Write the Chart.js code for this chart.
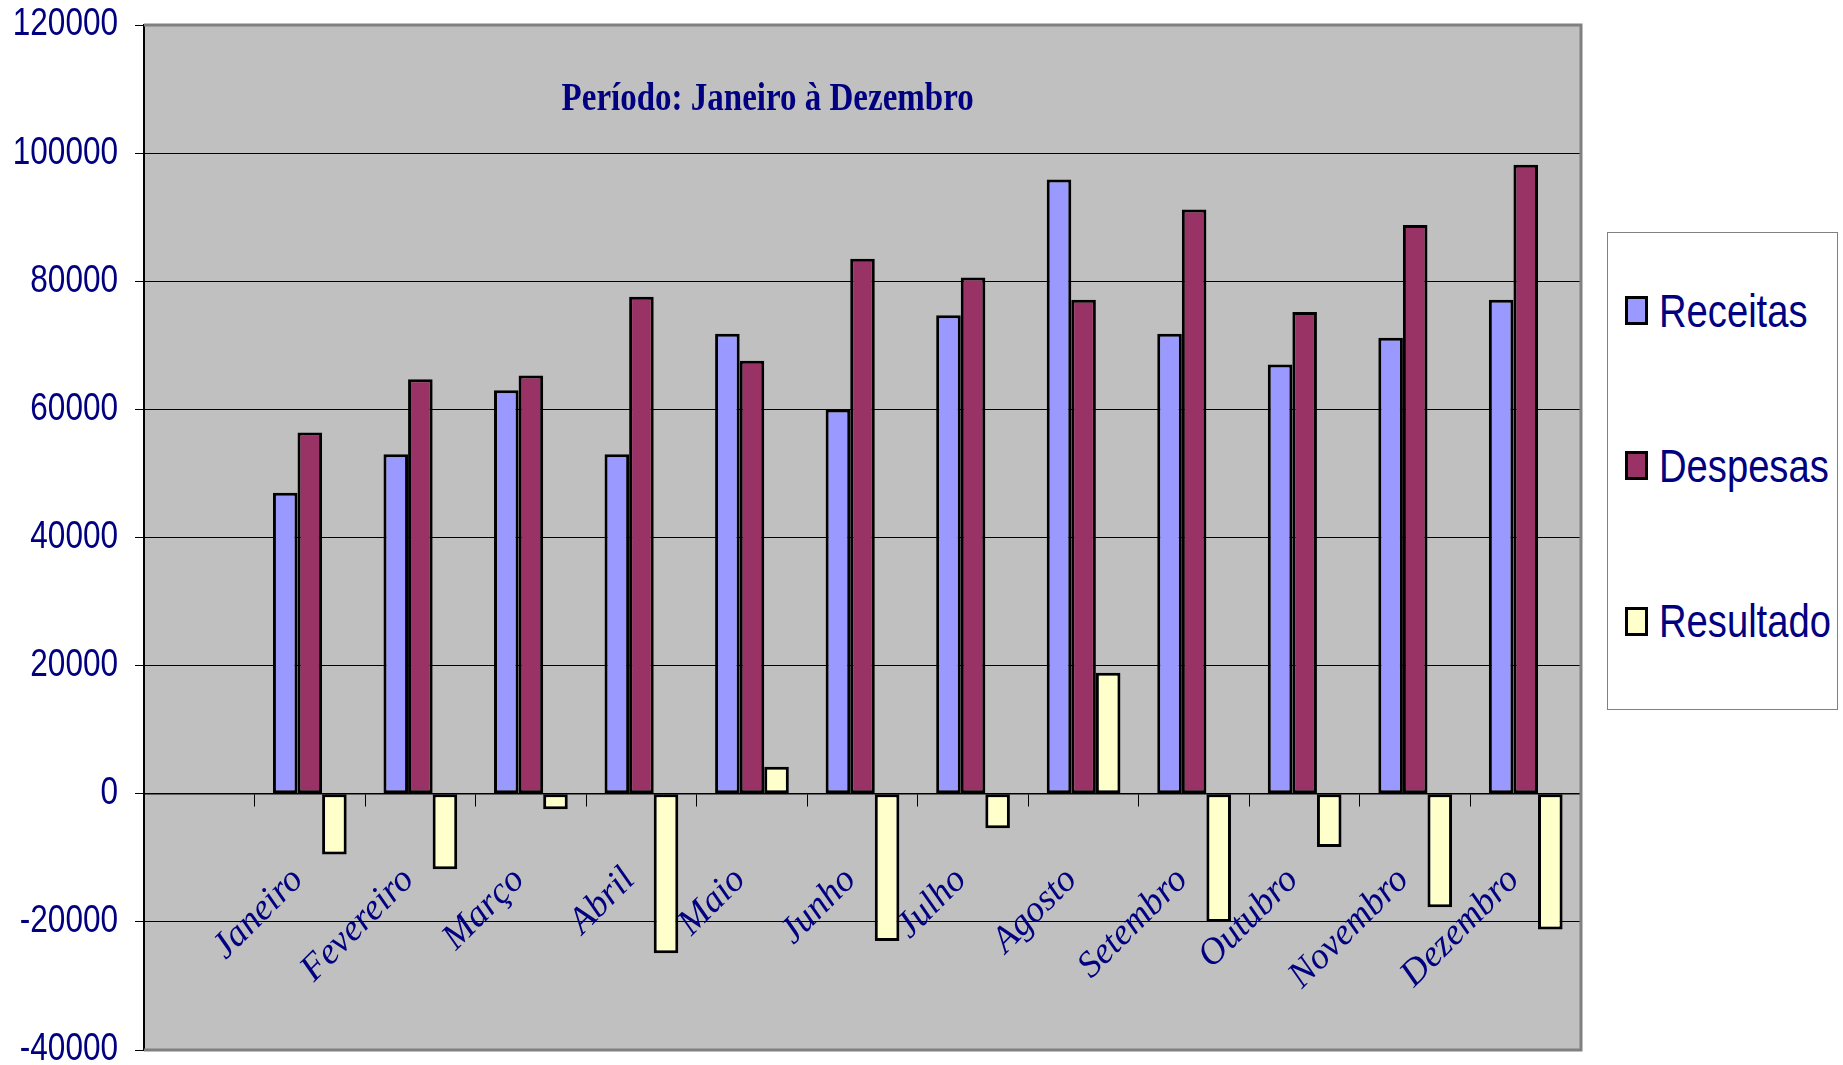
<!DOCTYPE html>
<html>
<head>
<meta charset="utf-8">
<script src="https://cdn.jsdelivr.net/npm/chart.js@4.4.1/dist/chart.umd.min.js"></script>
<style>
  body { margin: 0; background: #fff; }
  #wrap { position: relative; width: 1843px; height: 1065px; }
  #legend {
    position: absolute; left: 1607px; top: 232px; width: 229px; height: 466px; padding-bottom: 10px;
    border: 1px solid #808080; background: #fff;
    display: flex; flex-direction: column; justify-content: space-around;
  }
  .item { display: flex; align-items: center; white-space: nowrap; font: 46px 'Liberation Sans', Arial, sans-serif; color: #000080; line-height: 1; }
  .sw { flex-shrink: 0; width: 17px; height: 23px; border: 3px solid #000; margin-left: 17px; margin-right: 11px; }
  .txt { display: inline-block; transform: scaleX(0.83); transform-origin: left center; }
</style>
</head>
<body>
<div id="wrap">
  <canvas id="chart" width="1843" height="1065"></canvas>
  <div id="legend"></div>
</div>
<script>
var months = ['', 'Janeiro', 'Fevereiro', 'Março', 'Abril', 'Maio', 'Junho', 'Julho', 'Agosto', 'Setembro', 'Outubro', 'Novembro', 'Dezembro'];
var receitas = [null, 47000, 53000, 63000, 53000, 71800, 60000, 74700, 95900, 71800, 67000, 71200, 77100];
var despesas = [null, 56400, 64700, 65300, 77600, 67600, 83500, 80600, 77100, 91200, 75200, 88800, 98200];
var resultado = [null, -9500, -11800, -2400, -24900, 4200, -23000, -5400, 18900, -20000, -8300, -17700, -21200];
var yTicks = [-40000, -20000, 0, 20000, 40000, 60000, 80000, 100000, 120000];
var chartTitle = 'Período: Janeiro à Dezembro';

var navy = '#000080';

// fundo cinza e moldura da área do gráfico
var plotArea = {
  id: 'plotArea',
  beforeDraw: function(chart) {
    var a = chart.chartArea, ctx = chart.ctx;
    ctx.save();
    ctx.fillStyle = '#C0C0C0';
    ctx.fillRect(a.left, a.top, a.right - a.left, a.bottom - a.top);
    ctx.restore();
  },
  afterDraw: function(chart) {
    var a = chart.chartArea, ctx = chart.ctx;
    ctx.save();
    ctx.strokeStyle = '#808080';
    ctx.lineWidth = 3;
    ctx.beginPath();
    ctx.moveTo(a.left, a.top);
    ctx.lineTo(a.right, a.top);
    ctx.lineTo(a.right, a.bottom);
    ctx.lineTo(a.left, a.bottom);
    ctx.stroke();
    // texto do período
    ctx.fillStyle = navy;
    ctx.font = 'bold 33px "Liberation Serif", "Times New Roman", serif';
    ctx.textAlign = 'center';
    ctx.textBaseline = 'alphabetic';
    ctx.translate(a.left + (a.right - a.left) * 0.434, a.top + 85);
    ctx.scale(1, 1.22);
    ctx.fillText(chartTitle, 0, 0);
    ctx.restore();
  }
};

// rótulos do eixo y mais estreitos (como Arial Narrow)
function narrowLabels(scale) {
  if (scale._narrow) return;
  scale._narrow = true;
  var orig = scale.drawLabels;
  scale._computeLabelArea = function() { return null; };
  scale.drawLabels = function(area) {
    var c = this.ctx;
    var x0 = this.right - 9 - 17;
    c.save();
    c.translate(x0, 0);
    c.scale(0.83, 1);
    c.translate(-x0, 0);
    orig.call(this, area);
    c.restore();
  };
}

var ctx = document.getElementById('chart').getContext('2d');
var chart = new Chart(ctx, {
  type: 'bar',
  data: {
    labels: months,
    datasets: [
      { label: 'Receitas', data: receitas, backgroundColor: '#9999FF' },
      { label: 'Despesas', data: despesas, backgroundColor: '#993366' },
      { label: 'Resultado', data: resultado, backgroundColor: '#FFFFCC' }
    ]
  },
  options: {
    responsive: false,
    animation: false,
    devicePixelRatio: 1,
    layout: { padding: { top: 25, right: 262, bottom: 15, left: 0 } },
    datasets: {
      bar: {
        borderColor: '#000',
        borderWidth: 3,
        borderSkipped: false,
        categoryPercentage: 0.667,
        barPercentage: 1.0
      }
    },
    plugins: {
      legend: { display: false },
      tooltip: { enabled: false },
      title: { display: false }
    },
    scales: {
      x: {
        position: { y: 0 },
        offset: true,
        grid: { offset: true, drawOnChartArea: false, drawTicks: true, tickLength: 12, color: '#000', lineWidth: 1 },
        border: { display: true, color: '#000', width: 1.5 },
        ticks: {
          autoSkip: false,
          minRotation: 45,
          maxRotation: 45,
          padding: 53,
          labelOffset: -12,
          color: navy,
          font: { family: '"Liberation Serif", "Times New Roman", serif', style: 'italic', size: 37 }
        }
      },
      y: {
        min: -40000,
        max: 120000,
        afterFit: function(scale) {
          scale.width = 144;
          scale.paddingTop = 0;
          scale.paddingBottom = 0;
        },
        afterBuildTicks: function(scale) {
          scale.ticks = yTicks.map(function(v) { return { value: v }; });
        },
        afterUpdate: narrowLabels,
        grid: { color: '#000', lineWidth: 1, drawTicks: true, tickLength: 9 },
        border: { display: true, color: '#000', width: 2 },
        ticks: {
          padding: 17,
          color: navy,
          callback: function(v) { return String(v); },
          font: { family: '"Liberation Sans", Arial, sans-serif', size: 38, lineHeight: 0.8 }
        }
      }
    }
  },
  plugins: [plotArea]
});
chart.draw();

// legenda à direita, montada a partir dos datasets
var legend = document.getElementById('legend');
chart.data.datasets.forEach(function(ds) {
  var item = document.createElement('div');
  item.className = 'item';
  var sw = document.createElement('span');
  sw.className = 'sw';
  sw.style.background = ds.backgroundColor;
  var txt = document.createElement('span');
  txt.className = 'txt';
  txt.textContent = ds.label;
  item.appendChild(sw);
  item.appendChild(txt);
  legend.appendChild(item);
});
</script>
</body>
</html>
